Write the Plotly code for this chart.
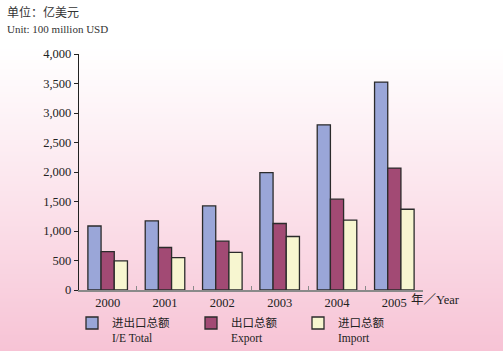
import base64
import struct
import zlib

import plotly.graph_objects as go

# ---------------- data ----------------
years = ["2000", "2001", "2002", "2003", "2004", "2005"]
total = [1085, 1170, 1425, 1990, 2800, 3525]
export = [650, 720, 828, 1127, 1540, 2067]
imports = [495, 550, 637, 907, 1183, 1369]
names = ["进出口总额<br>I/E Total", "出口总额<br>Export", "进口总额<br>Import"]
y_ticks = [0, 500, 1000, 1500, 2000, 2500, 3000, 3500, 4000]

# ---------------- layout constants ----------------
W, H = 503, 351
ML, MR, MT, MB = 79, 80, 54, 61
PW, PH = W - ML - MR, H - MT - MB

FONT = "Liberation Serif, 'Noto Sans CJK SC', serif"
colors = ["#9aa6d8", "#a24a74", "#f7f6d0"]


def gradient_png(h):
    rows = b""
    top, bot = (255, 255, 255), (247, 195, 213)
    for yy in range(h):
        t = max(0.0, min(1.0, (yy - 45) / (h - 45)))
        t = t ** 1.1
        c = [int(round(top[i] * (1 - t) + bot[i] * t)) for i in range(3)]
        rows += b"\x00" + bytes(c) * 2
    def chunk(tag, data):
        return struct.pack(">I", len(data)) + tag + data + struct.pack(">I", zlib.crc32(tag + data) & 0xffffffff)
    png = b"\x89PNG\r\n\x1a\n"
    png += chunk(b"IHDR", struct.pack(">IIBBBBB", 2, h, 8, 2, 0, 0, 0))
    png += chunk(b"IDAT", zlib.compress(rows))
    png += chunk(b"IEND", b"")
    return "data:image/png;base64," + base64.b64encode(png).decode()


fig = go.Figure()
series = [total, export, imports]
legend_ids = ["legend", "legend2", "legend3"]
for vals, nm, col, lg in zip(series, names, colors, legend_ids):
    fig.add_trace(go.Bar(
        x=years, y=vals, name=nm, legend=lg,
        marker=dict(color=col, line=dict(color="#2b2b2b", width=1.3)),
    ))

leg_common = dict(
    orientation="h", xanchor="left", yanchor="top", xref="container",
    yref="container", bgcolor="rgba(0,0,0,0)",
    font=dict(family=FONT, size=11.5, color="#222"),
    valign="top", itemwidth=30, tracegroupgap=0,
)
leg_x_px = [72, 191, 298]
leg_y = 1 - 309 / H
fig.update_layout(
    legend=dict(x=leg_x_px[0] / W, y=leg_y, **leg_common),
    legend2=dict(x=leg_x_px[1] / W, y=leg_y, **leg_common),
    legend3=dict(x=leg_x_px[2] / W, y=leg_y, **leg_common),
)

fig.update_layout(
    width=W, height=H,
    margin=dict(l=ML, r=MR, t=MT, b=MB, autoexpand=False),
    paper_bgcolor="white", plot_bgcolor="rgba(0,0,0,0)",
    barmode="group", bargap=0.31, bargroupgap=0,
    font=dict(family=FONT, size=12, color="#222"),
    showlegend=True,
    images=[dict(
        source=gradient_png(H), xref="paper", yref="paper",
        x=-ML / PW, y=1 + MT / PH, sizex=W / PW, sizey=H / PH,
        xanchor="left", yanchor="top", sizing="stretch", layer="below",
    )],
    xaxis=dict(
        type="category", range=[-0.5, 5.5], showline=True, linecolor="#8a8a8a",
        linewidth=1.5, ticks="inside", tickson="boundaries", ticklen=4,
        tickcolor="#8a8a8a", tickwidth=1.3, showgrid=False, zeroline=False,
        tickfont=dict(family=FONT, size=12.5, color="#222"),
    ),
    yaxis=dict(
        range=[0, 4000], tickvals=y_ticks, tickformat=",", showline=True,
        linecolor="#222", linewidth=1.3, ticks="outside", ticklen=4,
        tickcolor="#222", showgrid=False, zeroline=False,
        tickfont=dict(family=FONT, size=12.5, color="#222"),
    ),
    annotations=[
        dict(text="单位：亿美元", xref="paper", yref="paper", x=-ML / PW + 5 / PW,
             y=1 + (MT - 12) / PH, xanchor="left", yanchor="middle", showarrow=False,
             font=dict(family=FONT, size=12, color="#333")),
        dict(text="Unit: 100 million USD", xref="paper", yref="paper",
             x=-ML / PW + 5 / PW, y=1 + (MT - 29) / PH, xanchor="left",
             yanchor="middle", showarrow=False,
             font=dict(family=FONT, size=11, color="#333")),
        dict(text="年／Year", xref="paper", yref="paper", x=(409 - ML) / PW,
             y=-(300 - (H - MB)) / PH, xanchor="left", yanchor="middle",
             showarrow=False, font=dict(family=FONT, size=12.5, color="#222")),
    ],
)

fig.write_html("out.html")
